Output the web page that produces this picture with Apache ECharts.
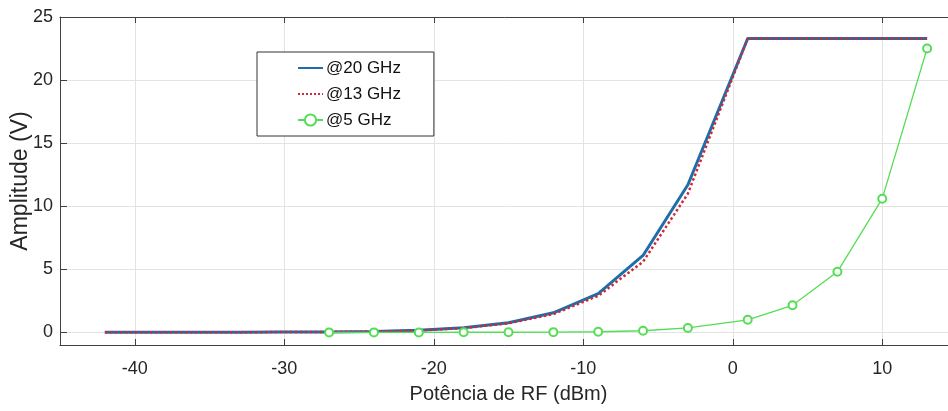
<!DOCTYPE html>
<html>
<head>
<meta charset="utf-8">
<script src="https://cdn.jsdelivr.net/npm/echarts@6/dist/echarts.min.js"></script>
<style>html,body{margin:0;padding:0;background:#fff}#c{width:948px;height:411px}</style>
</head>
<body>
<div id="c"></div>
<script>
const seriesNames = ['@20 GHz', '@13 GHz', '@5 GHz'];
const powerDbm = [-42, -39, -36, -33, -30, -27, -24, -21, -18, -15, -12, -9, -6, -3, 1, 4, 7, 10, 13];
const amp20GHz = [0.003, 0.005, 0.01, 0.015, 0.025, 0.04, 0.08, 0.16, 0.37, 0.77, 1.55, 3.07, 6.1, 11.7, 23.3, 23.3, 23.3, 23.3, 23.3];
const amp13GHz = [0.003, 0.005, 0.01, 0.015, 0.024, 0.038, 0.07, 0.15, 0.34, 0.72, 1.45, 2.9, 5.6, 11.0, 23.3, 23.3, 23.3, 23.3, 23.3];
const amp5GHz = [null, null, null, null, null, 0.0, 0.0, 0.0, 0.01, 0.01, 0.02, 0.05, 0.13, 0.35, 1.0, 2.15, 4.8, 10.6, 22.5];
const xTicks = [-40, -30, -20, -10, 0, 10];
const yTicks = [0, 5, 10, 15, 20, 25];

const pairs = (ys) => powerDbm.map((x, i) => [x, ys[i]]).filter(p => p[1] !== null);

const FONT = '"Liberation Sans", Arial, Helvetica, sans-serif';
const AX = '#404040';

const chart = echarts.init(document.getElementById('c'), null, {renderer: 'canvas'});
chart.setOption({
  animation: false,
  backgroundColor: '#fff',
  grid: {left: 60, top: 17, right: -9, bottom: 66, containLabel: false, outerBoundsMode: 'none'},
  legend: {
    orient: 'vertical',
    left: 257, top: 52,
    padding: [6, 33, 6, 40],
    backgroundColor: '#fff',
    borderColor: '#333',
    borderWidth: 1,
    itemWidth: 25, itemHeight: 14, itemGap: 6,
    textStyle: {fontFamily: FONT, fontSize: 17, color: '#111', lineHeight: 20, padding: [0, 0, 0, -2]},
    data: [
      {name: seriesNames[0], itemStyle: {opacity: 0}},
      {name: seriesNames[1], itemStyle: {opacity: 0}},
      {name: seriesNames[2]}
    ]
  },
  xAxis: [{
    type: 'value', min: -45, max: 15, position: 'bottom',
    name: 'Potência de RF (dBm)', nameLocation: 'middle', nameGap: 39, nameMoveOverlap: false,
    nameTextStyle: {fontFamily: FONT, fontSize: 20, color: '#262626'},
    axisLine: {show: true, onZero: false, lineStyle: {color: AX, width: 1}},
    axisTick: {show: true, inside: true, length: 6, customValues: xTicks, lineStyle: {color: AX}},
    axisLabel: {customValues: xTicks, fontFamily: FONT, fontSize: 18, color: '#262626', margin: 15},
    splitLine: {show: true, lineStyle: {color: '#e3e3e3', width: 1}}
  }, {
    type: 'value', min: -45, max: 15, position: 'top',
    axisLine: {show: true, onZero: false, lineStyle: {color: AX, width: 1}},
    axisTick: {show: true, inside: true, length: 6, customValues: xTicks, lineStyle: {color: AX}},
    axisLabel: {show: false},
    splitLine: {show: false}
  }],
  yAxis: {
    type: 'value', min: -1, max: 25,
    name: 'Amplitude (V)', nameLocation: 'middle', nameGap: 28, nameRotate: 90, nameMoveOverlap: false,
    nameTextStyle: {fontFamily: FONT, fontSize: 23, color: '#262626'},
    axisLine: {show: true, onZero: false, lineStyle: {color: AX, width: 1}},
    axisTick: {show: true, inside: true, length: 7, customValues: yTicks, lineStyle: {color: AX}},
    axisLabel: {customValues: yTicks, fontFamily: FONT, fontSize: 18, color: '#262626', margin: 7},
    splitLine: {show: true, lineStyle: {color: '#e3e3e3', width: 1}}
  },
  series: [{
    name: seriesNames[0], type: 'line', xAxisIndex: 0,
    data: pairs(amp20GHz), symbol: 'none', showSymbol: false,
    lineStyle: {color: '#1f6ea8', width: 3}, itemStyle: {color: '#1f6ea8'}, z: 2
  }, {
    name: seriesNames[1], type: 'line', xAxisIndex: 0,
    data: pairs(amp13GHz), symbol: 'none', showSymbol: false,
    lineStyle: {color: '#cc2a3a', width: 2.5, type: 'dotted'}, itemStyle: {color: '#cc2a3a'}, z: 3
  }, {
    name: seriesNames[2], type: 'line', xAxisIndex: 0,
    data: pairs(amp5GHz), symbol: 'emptyCircle', symbolSize: 8, showSymbol: true,
    lineStyle: {color: '#55dd55', width: 1.3},
    itemStyle: {color: '#55dd55', borderColor: '#55dd55', borderWidth: 1.3}, z: 4
  }]
});
</script>
</body>
</html>
